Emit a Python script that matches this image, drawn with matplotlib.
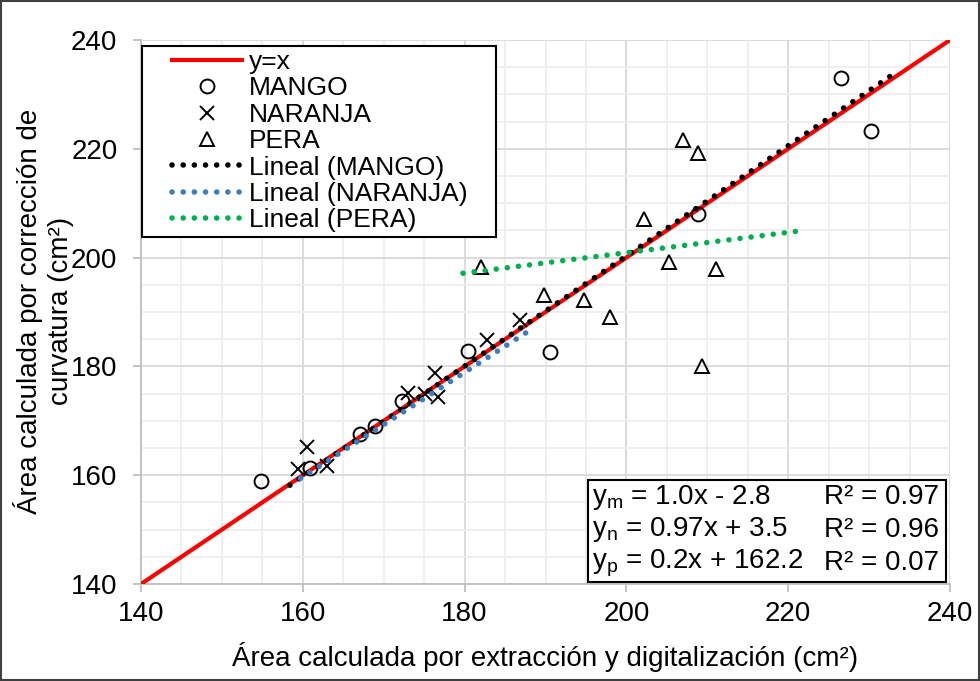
import numpy as np
import matplotlib
matplotlib.use("Agg")
import matplotlib.pyplot as plt
from matplotlib.patches import Rectangle
from matplotlib.ticker import MultipleLocator

plt.rcParams['font.family'] = ['Liberation Sans', 'DejaVu Sans']
plt.rcParams['mathtext.fontset'] = 'custom'
plt.rcParams['mathtext.rm'] = 'Liberation Sans'
plt.rcParams['mathtext.it'] = 'Liberation Sans'

# Data
mango_x = [154.8, 160.9, 167.1, 168.9, 172.3, 180.4, 190.6, 208.9, 226.5, 230.2]
mango_y = [158.9, 161.3, 167.6, 169.0, 173.6, 182.8, 182.6, 208.0, 233.0, 223.3]
naranja_x = [159.4, 160.5, 163.0, 173.0, 175.1, 176.7, 176.3, 182.8, 186.8]
naranja_y = [161.1, 165.2, 161.7, 175.1, 174.9, 174.4, 178.8, 184.9, 188.6]
pera_x = [182.0, 189.8, 194.8, 198.0, 202.2, 205.3, 207.0, 208.9, 209.3, 211.1]
pera_y = [198.3, 193.1, 192.2, 189.1, 207.1, 199.2, 221.6, 219.2, 180.1, 197.9]

# Trend lines as drawn (slope, intercept, x-range)
mango_trend = [1.013, -2.3]
naranja_trend = [0.96, 6.1]
pera_trend = [0.187, 163.5]
mango_range = [158.4, 233.2]
naranja_range = [159.7, 188.0]
pera_range = [179.8, 221.1]

eq_lines = ["y$_{m}$ = 1.0x - 2.8", "y$_{n}$ = 0.97x + 3.5", "y$_{p}$ = 0.2x + 162.2"]
r2_lines = ["R² = 0.97", "R² = 0.96", "R² = 0.07"]

W, H = 980, 681
fig = plt.figure(figsize=(W/100, H/100), dpi=100)
ax = fig.add_axes([141/W, 1-584/H, (950-141)/W, (584-40)/H])

ax.set_xlim(140, 240)
ax.set_ylim(140, 240)
ax.xaxis.set_major_locator(MultipleLocator(20))
ax.yaxis.set_major_locator(MultipleLocator(20))
ax.xaxis.set_minor_locator(MultipleLocator(5))
ax.yaxis.set_minor_locator(MultipleLocator(5))
ax.grid(which='major', color='#d9d9d9', lw=1.3, zorder=0)
ax.grid(which='minor', color='#eeeeee', lw=1.3, zorder=0)
ax.set_axisbelow(True)
for s in ['top', 'right']:
    ax.spines[s].set_visible(False)
for s in ['left', 'bottom']:
    ax.spines[s].set_color('#bfbfbf')
    ax.spines[s].set_linewidth(1.3)
ax.tick_params(which='major', length=6, width=1.3, color='#bfbfbf', labelsize=20)
ax.tick_params(which='minor', length=0)
ax.tick_params(axis='y', pad=11)
ax.tick_params(axis='x', pad=6)

ax.plot([140, 240], [140, 240], color='#ff0000', lw=3.0, label='y=x', zorder=3)
mk = dict(ls='none', mfc='none', mec='black', mew=1.4, zorder=4)
ax.plot(mango_x, mango_y, marker='o', ms=10, label='MANGO', **mk)
ax.plot(naranja_x, naranja_y, marker='x', ms=10, label='NARANJA', **mk)
ax.plot(pera_x, pera_y, marker='^', ms=10, label='PERA', **mk)

def trend(coef, rng, color, label):
    xx = np.array(rng)
    ax.plot(xx, np.polyval(coef, xx), color=color, lw=4.0, ls=(0, (0.01, 2.0)),
            dash_capstyle='round', label=label, zorder=5)

trend(mango_trend, mango_range, 'black', 'Lineal (MANGO)')
trend(naranja_trend, naranja_range, '#3a7dc2', 'Lineal (NARANJA)')
trend(pera_trend, pera_range, '#00b050', 'Lineal (PERA)')

# Legend box
ax.add_patch(Rectangle((142/W, 1-237/H), (496-142)/W, (237-46)/H, transform=fig.transFigure,
                       facecolor='white', edgecolor='black', lw=1.5, zorder=9))
leg = ax.legend(loc='upper left', bbox_to_anchor=(172/W, 1-50/H),
                bbox_transform=fig.transFigure, fontsize=19,
                frameon=False, borderpad=0, labelspacing=0.09, handlelength=2.65,
                handletextpad=0.25, borderaxespad=0)
leg.set_zorder(10)

# Equation box
ax.add_patch(Rectangle((588/W, 1-582/H), (946-588)/W, (582-480)/H, transform=fig.transFigure,
                       facecolor='white', edgecolor='black', lw=1.5, zorder=9))
for i, (e, r) in enumerate(zip(eq_lines, r2_lines)):
    yy = 1 - (497 + 33*i)/H
    fig.text(592/W, yy, e, fontsize=20, va='center', ha='left', zorder=10)
    fig.text(939/W, yy, r, fontsize=20, va='center', ha='right', zorder=10)

ax.set_xlabel("Área calculada por extracción y digitalización (cm²)", fontsize=20, labelpad=11)
fig.text(44/W, 1-311/H, "Área calculada por corrección de\ncurvatura (cm²)", fontsize=20,
         rotation=90, ha='center', va='center', multialignment='center', linespacing=1.25)

fig.patches.append(Rectangle((0.001, 0.001), 0.998, 0.998, transform=fig.transFigure,
                             fill=False, edgecolor='#404040', lw=1.5))

fig.savefig('out.png', dpi=100)
